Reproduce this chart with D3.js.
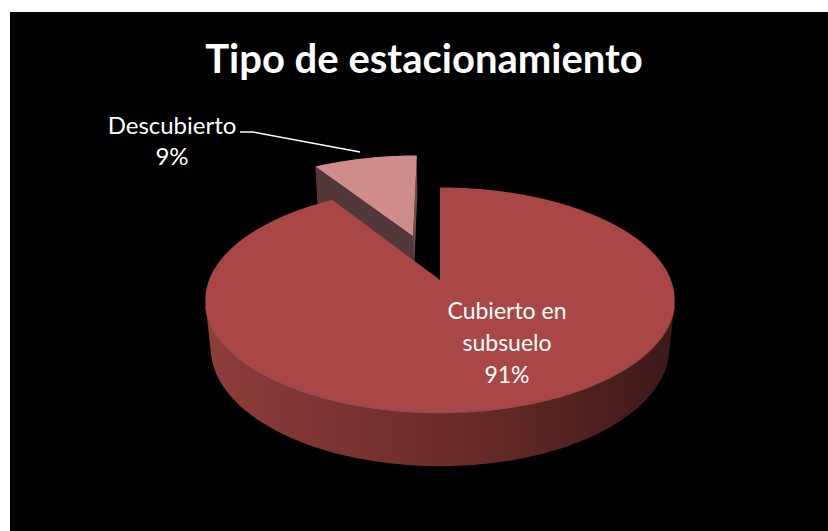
<!DOCTYPE html>
<html>
<head>
<meta charset="utf-8">
<script src="https://cdn.jsdelivr.net/npm/d3@7"></script>
<style>
  html, body { margin: 0; padding: 0; background: #fff; }
  svg { display: block; font-family: Lato, "Open Sans", sans-serif; }
</style>
</head>
<body>
<div id="chart"></div>
<script>
// chart data
var categories = ['Cubierto en subsuelo', 'Descubierto'];
var values = [91, 9];
var percentLabels = ['91%', '9%'];
var exploded = [0, 0.45];
var topColors = ['#a84745', '#cf8c8b'];

var width = 828, height = 531;

var svg = d3.select('#chart').append('svg')
    .attr('width', width)
    .attr('height', height);

svg.append('rect')
    .attr('x', 10).attr('y', 12)
    .attr('width', width - 10).attr('height', height - 12)
    .attr('fill', '#000');

// title
svg.append('text')
    .attr('x', 424).attr('y', 73)
    .attr('text-anchor', 'middle')
    .attr('fill', '#fff')
    .style('font-size', '40px')
    .style('font-weight', 'bold')
    .text('Tipo de estacionamiento');

// simple perspective camera for the 3d pie
var cx = 440, cy = 280;
var focal = 1150, dist = 4.98;
var sinA = 0.472, cosA = Math.sqrt(1 - sinA * sinA);
var thick = 0.238;

var project = function(x, y, z) {
    var depth = -y * sinA + z * cosA + dist;
    var up = y * cosA + z * sinA;
    return [cx + focal * x / depth, cy - focal * up / depth];
};

// point on the rim for angle a (0 = back, clockwise), level y, slice offset
var rim = function(a, y, off) {
    return project(Math.sin(a) + off[0], y, Math.cos(a) + off[1]);
};

var arcPoints = function(a0, a1, y, off) {
    var n = Math.max(2, Math.ceil(Math.abs(a1 - a0) / 0.02));
    return d3.range(n + 1).map(function(i) {
        return rim(a0 + (a1 - a0) * i / n, y, off);
    });
};

var line = d3.line();

var pie = d3.pie().sort(null).value(function(d) { return d; });
var arcs = pie(values);

var defs = svg.append('defs');
var wallGrad = defs.append('linearGradient')
    .attr('id', 'wall')
    .attr('gradientUnits', 'userSpaceOnUse')
    .attr('x1', 208).attr('x2', 672).attr('y1', 0).attr('y2', 0);
wallGrad.selectAll('stop')
    .data([[0, '#8e3d3a'], [0.3, '#7a3331'], [0.6, '#652a28'], [0.85, '#4c1f1e'], [1, '#3d1918']])
    .enter().append('stop')
    .attr('offset', function(d) { return d[0]; })
    .attr('stop-color', function(d) { return d[1]; });

var pieGroup = svg.append('g');

// wall is visible between these angles (front side)
var lo = Math.acos(-1 / (dist * cosA));
var hi = 2 * Math.PI - lo;

// draw the back slice first, so the big one covers it
[1, 0].forEach(function(i) {
    var d = arcs[i];
    var mid = (d.startAngle + d.endAngle) / 2;
    var off = [Math.sin(mid) * exploded[i], Math.cos(mid) * exploded[i]];
    var c0 = project(off[0], 0, off[1]);
    var c1 = project(off[0], -thick, off[1]);

    // cut faces of the exploded slice
    if (exploded[i] > 0) {
        var s0 = rim(d.startAngle, 0, off), s1 = rim(d.startAngle, -thick, off);
        pieGroup.append('path')
            .attr('d', line([c0, s0, s1, c1]) + 'Z')
            .attr('fill', '#523839');
        var e0 = rim(d.endAngle, 0, off), e1 = rim(d.endAngle, -thick, off);
        pieGroup.append('path')
            .attr('d', line([c0, e0, e1, c1]) + 'Z')
            .attr('fill', '#6e4c4c');
    }

    // outer wall, only the part facing the camera
    var w0 = Math.max(d.startAngle, lo);
    var w1 = Math.min(d.endAngle, hi);
    if (w1 > w0) {
        var topEdge = arcPoints(w0, w1, 0, off);
        var botEdge = arcPoints(w1, w0, -thick, off);
        pieGroup.append('path')
            .attr('d', line(topEdge.concat(botEdge)) + 'Z')
            .attr('fill', 'url(#wall)');
        pieGroup.append('path')
            .attr('d', line(topEdge))
            .attr('fill', 'none')
            .attr('stroke', '#d2716b')
            .attr('stroke-opacity', 0.55)
            .attr('stroke-width', 1.5);
    }

    // top face
    var topPts = [c0].concat(arcPoints(d.startAngle, d.endAngle, 0, off));
    pieGroup.append('path')
        .attr('d', line(topPts) + 'Z')
        .attr('fill', topColors[i]);
});

// labels
var labelStyle = function(sel, size) {
    sel.attr('fill', '#fff')
        .attr('text-anchor', 'middle')
        .style('font-size', size);
};

var bigLabel = svg.append('text').call(labelStyle, '23px');
['Cubierto en', 'subsuelo', percentLabels[0]].forEach(function(t, k) {
    bigLabel.append('tspan')
        .attr('x', 507)
        .attr('y', 319 + k * 32)
        .text(t);
});

var smallLabel = svg.append('text').call(labelStyle, '24px');
['Descubierto', percentLabels[1]].forEach(function(t, k) {
    smallLabel.append('tspan')
        .attr('x', 172)
        .attr('y', 134 + k * 31)
        .text(t);
});

// leader line for the small slice
svg.append('path')
    .attr('d', line([[240, 132], [253, 132], [360, 152]]))
    .attr('fill', 'none')
    .attr('stroke', '#fff')
    .attr('stroke-width', 1.5);
</script>
</body>
</html>
